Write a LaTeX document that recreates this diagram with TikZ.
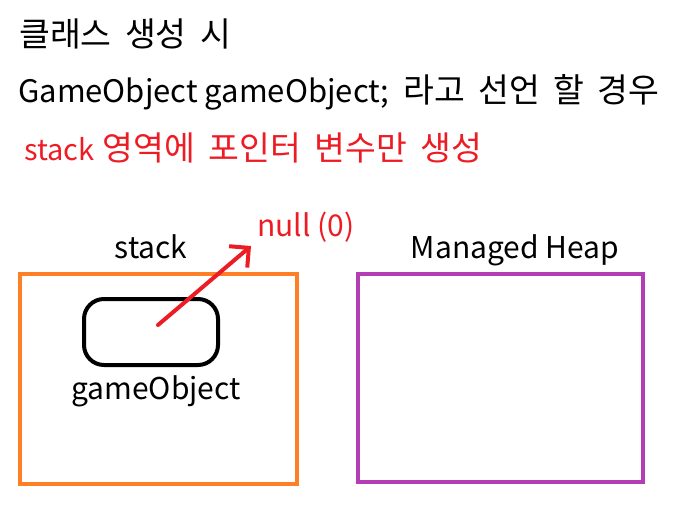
\documentclass[tikz,border=0pt]{standalone}
\usepackage{fontspec}
\setmainfont{Noto Sans CJK KR}
\newfontfamily\kfont[WordSpace=1.8]{Noto Sans CJK KR}
\newcommand{\kor}[1]{{\kfont\fontsize{33.5}{36}\selectfont #1}}
\usetikzlibrary{arrows.meta}
\definecolor{stackorange}{HTML}{FF7F27}
\definecolor{heappurple}{HTML}{B43CB4}
\definecolor{ptrred}{HTML}{ED1C24}
\tikzset{
  memarea/.style={line width=4.5pt},
  txt/.style={anchor=base west, inner sep=0pt},
  lbl/.style={inner sep=0pt, anchor=base, font=\fontsize{30}{34}\selectfont},
}
\begin{document}
\begin{tikzpicture}[x=1pt, y=-1pt, font=\fontsize{29.5}{33}\selectfont]
		\useasboundingbox (0,0) rectangle (696,525);
		% title lines
		\node[txt] (line1) at (19,46) {\kor{클래스 생성 시}};
		\node[txt, font=\fontsize{31}{34}\selectfont] (line2) at (18,102) {GameObject gameObject;\hspace{14pt}\kor{라고 선언 할 경우}};
		\node[txt, text=ptrred, font=\fontsize{29}{33}\selectfont] (line3) at (24,160) {stack\hspace{8pt}\kor{영역에 포인터 변수만 생성}};

		% stack and heap
		\draw[memarea, stackorange] (20,274) rectangle (297,484);
		\draw[memarea, heappurple] (358,274) rectangle (643,482);
		\node[lbl] (stacklbl) at (151,258) {stack};
		\node[lbl] (heaplbl) at (515,258) {Managed Heap};

		% pointer variable
		\node[draw, line width=4pt, rounded corners=20pt, minimum width=134pt, minimum height=66pt] (var) at (151,332) {};
		\node[lbl] (varlbl) at (156,399) {gameObject};
		\node[lbl, anchor=base west, text=ptrred] (null) at (257,236) {null (0)};
		\coordinate (nulltip) at (251,246);
		\draw[ptrred, line width=4pt, line cap=round, -{Straight Barb[length=14pt, width=28pt, line width=4pt]}] (var.center) ++(7,-7) -- (nulltip);
\end{tikzpicture}
\end{document}
